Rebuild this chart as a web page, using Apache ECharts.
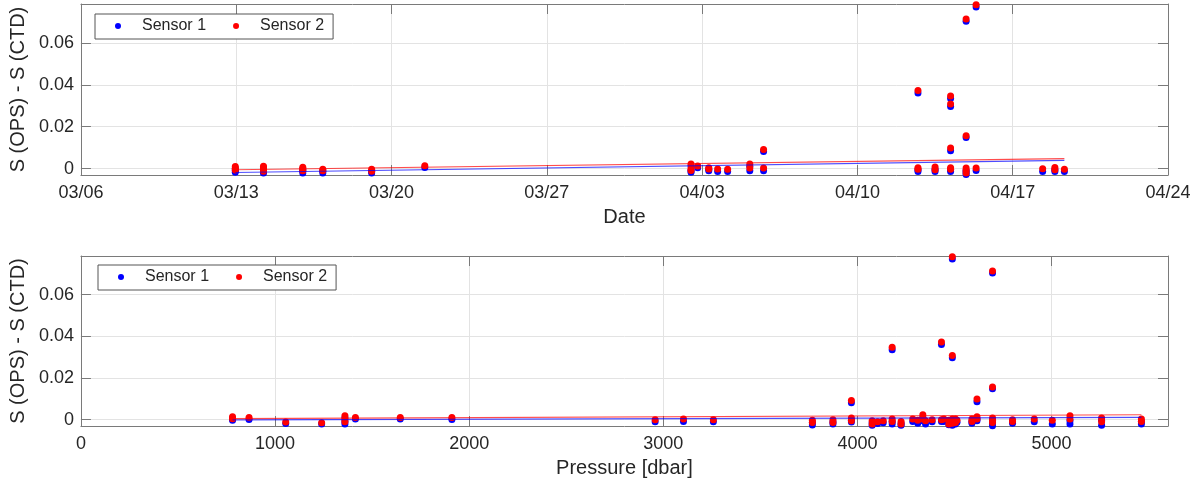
<!DOCTYPE html>
<html><head><meta charset="utf-8">
<script src="https://cdn.jsdelivr.net/npm/echarts@6/dist/echarts.min.js"></script>
<style>html,body{margin:0;padding:0;background:#fff}#c{width:1201px;height:481px}</style>
</head><body><div id="c"></div>
<script>
// ---------- DATA ----------
const seriesNames = ['Sensor 1', 'Sensor 2'];
const dateAxisStart = '2021-03-06T00:00';
const dateAxisEnd = '2021-04-24T00:00';
const yTitle = 'S (OPS) - S (CTD)';
const yTickValues = [0, 0.02, 0.04, 0.06];
const yTickLabels = ['0', '0.02', '0.04', '0.06'];

// casts (date/time) and salinity differences at each bottle of the cast
const castTimes = ['2021-03-12T23:00','2021-03-14T05:30','2021-03-16T00:00','2021-03-16T21:40','2021-03-19T02:30','2021-03-21T12:00',
  '2021-04-02T12:00','2021-04-02T19:12','2021-04-03T07:12','2021-04-03T16:48','2021-04-04T03:36','2021-04-05T03:36','2021-04-05T18:29',
  '2021-04-12T17:31','2021-04-13T12:00','2021-04-14T04:48','2021-04-14T21:36','2021-04-15T08:24','2021-04-18T08:24','2021-04-18T21:36','2021-04-19T07:55'];
const s1ByCast = [[-0.0001,-0.0009,-0.0017],[0.0001,-0.0005,-0.0011,-0.0016,-0.0021],[-0.0004,-0.0011,-0.0020],[-0.0012,-0.0020],[-0.0013,-0.0020],[0.0006],
  [0.0013,-0.0008,-0.0017],[0.0005],[-0.0003,-0.0010],[-0.0013],[-0.0013],[0.0012,-0.0010],[0.0082,-0.0010],
  [0.0361,-0.0005,-0.0013],[-0.0003,-0.0013],[0.0335,0.0297,0.0086,-0.0005,-0.0013],[0.0703,0.0149,-0.0008,-0.0018,-0.0028],[0.0771,-0.0008],[-0.0013],[-0.0004,-0.0013],[-0.0013]];
const s2ByCast = [[0.0010,0.0002,-0.0006],[0.0012,0.0006,0.0000,-0.0006,-0.0012],[0.0007,0.0000,-0.0010],[-0.0002,-0.0010],[-0.0003,-0.0012],[0.0014],
  [0.0022,0.0000,-0.0008],[0.0013],[0.0005,-0.0001],[-0.0001],[-0.0003],[0.0022,0.0003],[0.0092,0.0003],
  [0.0373,0.0005,-0.0002],[0.0008,-0.0005],[0.0347,0.0308,0.0099,0.0005,-0.0002],[0.0713,0.0157,0.0003,-0.0008,-0.0020],[0.0781,0.0003],[0.0000],[0.0006,-0.0005],[-0.0002]];

// bottle pressures [dbar] and salinity differences
const bottlePressure = [781,866,1055,1240,1360,1414,1645,1911,2958,3104,3258,3768,3874,3969,4076,4104,4133,4179,4225,4285,4311,4337,4351,4385,
  4433,4445,4471,4489,4505,4513,4590,4616,4696,4799,4911,5004,5095,5258,5463];
const s1ByPressure = [[0.0003,-0.0002],[0.0001],[-0.0018],[-0.0020],[0.0009,-0.0008,-0.0020],[0.0003],[0.0003],[0.0001],[-0.0010],[-0.0008],[-0.0010],
  [-0.0013,-0.0025],[-0.0010,-0.0020],[0.0082,-0.0003,-0.0011],[-0.0015,-0.0026],[-0.0018],[-0.0014],[0.0335,-0.0008,-0.0020],[-0.0018,-0.0027],[-0.0008],[-0.0017],
  [0.0012,-0.0005],[-0.0020],[-0.0010],[0.0361,-0.0008],[-0.0008],[-0.0012,-0.0024],[0.0771,0.0297,-0.0008,-0.0027],[-0.0008,-0.0020],[-0.0012],[-0.0007,-0.0017],
  [0.0086,0.0004,-0.0005],[0.0703,0.0149,-0.0004,-0.0014,-0.0029],[-0.0010,-0.0017],[-0.0010],[-0.0020],[-0.0005,-0.0020],[-0.0002,-0.0027],[-0.0008,-0.0020]];
const s2ByPressure = [[0.0014,0.0005],[0.0011],[-0.0011],[-0.0014],[0.0019,0.0003,-0.0010],[0.0011],[0.0011],[0.0011],[0.0000],[0.0003],[0.0000],
  [-0.0002,-0.0013],[0.0000,-0.0013],[0.0092,0.0008,-0.0005],[-0.0005,-0.0020],[-0.0010],[-0.0005],[0.0347,0.0003,-0.0008],[-0.0008,-0.0020],[0.0003],[-0.0002],
  [0.0024,0.0003],[-0.0005],[0.0000],[0.0373,0.0000],[0.0003],[-0.0002,-0.0020],[0.0781,0.0308,0.0003,-0.0017],[0.0003,-0.0013],[-0.0002],[0.0003,-0.0008],
  [0.0099,0.0014,0.0003],[0.0713,0.0157,0.0008,-0.0002,-0.0013],[0.0000,-0.0008],[0.0003],[-0.0002],[0.0019,0.0003],[0.0008,-0.0010],[0.0003,-0.0008]];

// linear fits (end points)
const fitTimes = ['2021-03-12T23:00','2021-04-19T07:55'];
const fitS1Date = [-0.0018, 0.0040];
const fitS2Date = [-0.0005, 0.0048];
const fitPressure = [781, 5463];
const fitS1Press = [-0.0001, 0.0011];
const fitS2Press = [0.0005, 0.0024];

// ---------- BUILD ----------
const DAY = 86400000;
const t0 = Date.parse(dateAxisStart + ':00Z');
const dayOf = s => (Date.parse(s + ':00Z') - t0) / DAY;
const dateLabel = v => { const d = new Date(t0 + v * DAY); return String(d.getUTCMonth()+1).padStart(2,'0') + '/' + String(d.getUTCDate()).padStart(2,'0'); };

function expand(xs, groups, fx) { const out = []; xs.forEach((x, i) => groups[i].forEach(v => out.push([fx(x), v]))); return out; }
const idf = x => x;

const BLUE = '#0000ff', RED = '#ff0000';
const FONT = 'Liberation Sans, Arial, Helvetica, sans-serif';
const BOX = '#7a7a7a', TXT = '#262626', GRID = '#e3e3e3';
const yMin = -0.003, yMax = 0.0785;

const grids = [
  { left: 78, right: 33, top: 4, height: 171 },
  { left: 78, right: 33, top: 256, height: 170 }
];

function xMain(gi, min, max, interval, fmt, name) {
  return { gridIndex: gi, type: 'value', min, max, interval, position: 'bottom',
    name, nameLocation: 'middle', nameGap: 32, nameTextStyle: { fontFamily: FONT, fontSize: 20, color: TXT },
    axisLine: { show: true, onZero: false, lineStyle: { color: BOX, width: 1 } },
    axisTick: { show: true, inside: true, length: 10, lineStyle: { color: BOX } },
    axisLabel: { margin: 9, fontFamily: FONT, fontSize: 18, color: TXT, formatter: fmt, showMaxLabel: interval * Math.round(max / interval) === max },
    splitLine: { show: true, lineStyle: { color: GRID, width: 1 } } };
}
function xTop(gi, min, max, interval) {
  return { gridIndex: gi, type: 'value', min, max, interval, position: 'top',
    axisLine: { show: true, onZero: false, lineStyle: { color: BOX, width: 1 } },
    axisTick: { show: true, inside: true, length: 10, lineStyle: { color: BOX } },
    axisLabel: { show: false }, splitLine: { show: false } };
}
const yLabelFmt = v => { const i = yTickValues.findIndex(t => Math.abs(t - v) < 1e-9); return i >= 0 ? yTickLabels[i] : ''; };
function yMain(gi) {
  return { gridIndex: gi, type: 'value', min: yMin, max: yMax, position: 'left',
    name: yTitle, nameLocation: 'middle', nameGap: 46, nameTextStyle: { fontFamily: FONT, fontSize: 20, color: TXT },
    axisLine: { show: true, onZero: false, lineStyle: { color: BOX, width: 1 } },
    axisTick: { show: true, inside: true, length: 10, lineStyle: { color: BOX }, customValues: yTickValues },
    axisLabel: { margin: 7, fontFamily: FONT, fontSize: 18, color: TXT, customValues: yTickValues, formatter: yLabelFmt },
    splitLine: { show: true, lineStyle: { color: GRID, width: 1 } } };
}
function yRight(gi) {
  return { gridIndex: gi, type: 'value', min: yMin, max: yMax, position: 'right',
    axisLine: { show: true, onZero: false, lineStyle: { color: BOX, width: 1 } },
    axisTick: { show: true, inside: true, length: 10, lineStyle: { color: BOX }, customValues: yTickValues },
    axisLabel: { show: false }, splitLine: { show: false } };
}

const dMax = dayOf(dateAxisEnd);
const option = {
  animation: false,
  backgroundColor: '#fff',
  grid: grids,
  xAxis: [
    xMain(0, 0, dMax, 7, dateLabel, 'Date'), xTop(0, 0, dMax, 7),
    xMain(1, 0, 5600, 1000, v => String(v), 'Pressure [dbar]'), xTop(1, 0, 5600, 1000)
  ],
  yAxis: [ yMain(0), yRight(0), yMain(1), yRight(1) ],
  legend: [0, 1].map(i => ({
    left: i === 0 ? 95 : 98, top: i === 0 ? 14 : 265,
    orient: 'horizontal', icon: 'circle', itemWidth: 6, itemHeight: 6, itemGap: 27,
    padding: [4, 9, 5, 20], borderColor: '#555', borderWidth: 1, borderRadius: 0, backgroundColor: '#fff',
    textStyle: { fontFamily: FONT, fontSize: 16, color: TXT, padding: [0, 0, 0, 16] },
    data: seriesNames
  })),
  series: [
    { name: seriesNames[0], type: 'scatter', xAxisIndex: 0, yAxisIndex: 0, symbol: 'circle', symbolSize: 7,
      itemStyle: { color: BLUE, opacity: 1 }, data: expand(castTimes, s1ByCast, dayOf), z: 2 },
    { name: seriesNames[1], type: 'scatter', xAxisIndex: 0, yAxisIndex: 0, symbol: 'circle', symbolSize: 7,
      itemStyle: { color: RED, opacity: 1 }, data: expand(castTimes, s2ByCast, dayOf), z: 3 },
    { type: 'line', xAxisIndex: 0, yAxisIndex: 0, showSymbol: false, symbol: 'none', silent: true,
      lineStyle: { color: BLUE, width: 1.2, opacity: 0.7 }, data: fitTimes.map((t, i) => [dayOf(t), fitS1Date[i]]), z: 4 },
    { type: 'line', xAxisIndex: 0, yAxisIndex: 0, showSymbol: false, symbol: 'none', silent: true,
      lineStyle: { color: RED, width: 1.2, opacity: 0.7 }, data: fitTimes.map((t, i) => [dayOf(t), fitS2Date[i]]), z: 4 },

    { name: seriesNames[0], type: 'scatter', xAxisIndex: 2, yAxisIndex: 2, symbol: 'circle', symbolSize: 7,
      itemStyle: { color: BLUE, opacity: 1 }, data: expand(bottlePressure, s1ByPressure, idf), z: 2 },
    { name: seriesNames[1], type: 'scatter', xAxisIndex: 2, yAxisIndex: 2, symbol: 'circle', symbolSize: 7,
      itemStyle: { color: RED, opacity: 1 }, data: expand(bottlePressure, s2ByPressure, idf), z: 3 },
    { type: 'line', xAxisIndex: 2, yAxisIndex: 2, showSymbol: false, symbol: 'none', silent: true,
      lineStyle: { color: BLUE, width: 1.2, opacity: 0.7 }, data: fitPressure.map((p, i) => [p, fitS1Press[i]]), z: 4 },
    { type: 'line', xAxisIndex: 2, yAxisIndex: 2, showSymbol: false, symbol: 'none', silent: true,
      lineStyle: { color: RED, width: 1.2, opacity: 0.7 }, data: fitPressure.map((p, i) => [p, fitS2Press[i]]), z: 4 }
  ]
};
const chart = echarts.init(document.getElementById('c'), null, { renderer: 'canvas' });
chart.setOption(option);
</script>
</body></html>
